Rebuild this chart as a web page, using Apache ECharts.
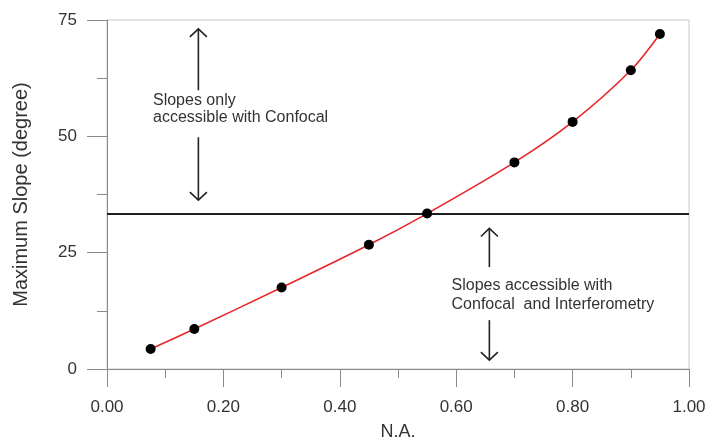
<!DOCTYPE html>
<html>
<head>
<meta charset="utf-8">
<script src="https://cdn.jsdelivr.net/npm/echarts@6/dist/echarts.min.js"></script>
<style>
html,body{margin:0;padding:0;background:#fff;}
#chart{width:708px;height:439px;}
</style>
</head>
<body>
<div id="chart"></div>
<script>
// Data
const naValues = [0.075, 0.15, 0.30, 0.45, 0.55, 0.70, 0.80, 0.90, 0.95];
const slopeValues = [4.3, 8.6, 17.5, 26.7, 33.4, 44.4, 53.1, 64.2, 72.0];
const thresholdSlope = 33.4;
const xTicks = [0, 0.2, 0.4, 0.6, 0.8, 1.0];
const yTicks = [0, 25, 50, 75];
// annotation arrows: [x, fromY, toY(tip)]
const arrows = [
  [0.157, 59.9, 73.1],
  [0.157, 49.8, 36.3],
  [0.657, 21.9, 30.2],
  [0.657, 10.5, 1.9]
];
// annotation text lines: [x(left), y(center), text]
const notes = [
  [0.079, 57.7, 'Slopes only'],
  [0.079, 54.0, 'accessible with Confocal'],
  [0.592, 18.0, 'Slopes accessible with'],
  [0.592, 13.9, 'Confocal  and Interferometry']
];

const pts = naValues.map((x, i) => [x, slopeValues[i]]);
const FONT = 'Liberation Sans, Arial, Helvetica, sans-serif';

const chart = echarts.init(document.getElementById('chart'), null, {renderer: 'canvas'});
chart.setOption({
  animation: false,
  backgroundColor: '#fff',
  grid: {left: 107, right: 19, top: 20, bottom: 70, outerBoundsMode: 'none', containLabel: false,
    show: true, borderColor: '#c8c8c8', borderWidth: 1, backgroundColor: 'transparent'},
  xAxis: {
    type: 'value', min: 0, max: 1, interval: 0.2,
    name: 'N.A.', nameLocation: 'middle', nameGap: 54,
    nameTextStyle: {fontFamily: FONT, fontSize: 18, color: '#333'},
    axisLine: {show: true, lineStyle: {color: '#8a8a8a', width: 1}},
    axisTick: {show: true, length: 18, lineStyle: {color: '#8a8a8a'}},
    minorTick: {show: true, splitNumber: 2, length: 9, lineStyle: {color: '#8a8a8a'}},
    splitLine: {show: false},
    axisLabel: {fontFamily: FONT, fontSize: 17, color: '#333', margin: 30,
      formatter: v => xTicks.some(t => Math.abs(t - v) < 1e-9) ? v.toFixed(2) : ''}
  },
  yAxis: {
    type: 'value', min: 0, max: 75, interval: 25,
    name: 'Maximum Slope (degree)', nameLocation: 'middle', nameGap: 76,
    nameTextStyle: {fontFamily: FONT, fontSize: 20, color: '#333'},
    axisLine: {show: true, lineStyle: {color: '#8a8a8a', width: 1}},
    axisTick: {show: true, length: 20, lineStyle: {color: '#8a8a8a'}},
    minorTick: {show: true, splitNumber: 2, length: 10, lineStyle: {color: '#8a8a8a'}},
    splitLine: {show: false},
    axisLabel: {fontFamily: FONT, fontSize: 17, color: '#333', margin: 30,
      formatter: v => yTicks.includes(v) ? String(v) : ''}
  },
  series: [
    {
      type: 'line',
      data: pts,
      smooth: 0.3,
      symbol: 'circle',
      symbolSize: 10,
      itemStyle: {color: '#000'},
      lineStyle: {color: '#e8262a', width: 1.6},
      z: 5,
      markLine: {
        silent: true,
        symbol: ['none', 'none'],
        label: {show: false},
        lineStyle: {color: '#1e1e1e', width: 2, type: 'solid'},
        data: [{yAxis: thresholdSlope}],
        z: 3
      }
    },
    {
      type: 'custom',
      data: arrows,
      silent: true,
      z: 4,
      renderItem: (params, api) => {
        const a = api.coord([api.value(0), api.value(1)]);
        const b = api.coord([api.value(0), api.value(2)]);
        const dir = b[1] < a[1] ? 1 : -1; // 1 = pointing up
        const hw = 8.5, hh = 8;
        const st = {stroke: '#222', lineWidth: 1.6, fill: 'none'};
        return {
          type: 'group',
          children: [
            {type: 'line', shape: {x1: a[0], y1: a[1], x2: b[0], y2: b[1]}, style: st},
            {type: 'polyline', shape: {points: [[b[0] - hw, b[1] + dir * hh], [b[0], b[1]], [b[0] + hw, b[1] + dir * hh]]}, style: st}
          ]
        };
      }
    },
    {
      type: 'custom',
      data: notes,
      silent: true,
      z: 4,
      renderItem: (params, api) => {
        const p = api.coord([api.value(0), api.value(1)]);
        return {
          type: 'text',
          x: p[0], y: p[1],
          style: {text: notes[params.dataIndex][2], fill: '#333', fontFamily: FONT, fontSize: 16,
            align: 'left', verticalAlign: 'middle'}
        };
      }
    }
  ]
});
</script>
</body>
</html>
